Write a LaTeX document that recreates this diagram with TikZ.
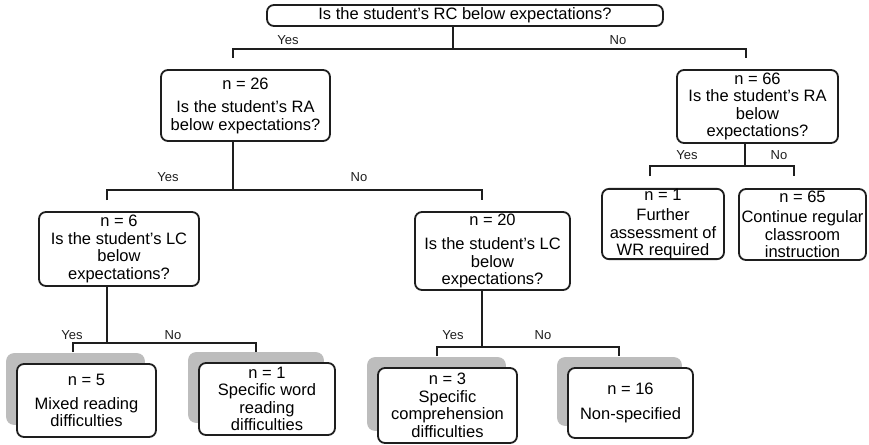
\documentclass[tikz,border=0pt]{standalone}
\usepackage{fontspec}
\setmainfont{Liberation Sans}
\usetikzlibrary{calc,backgrounds}
\definecolor{linec}{HTML}{1E1E1E}
\definecolor{shadowc}{HTML}{BDBDBD}
\begin{document}
\begin{tikzpicture}[x=1pt,y=-1pt,
  box/.style={draw=linec, line width=1.8pt, rounded corners=7pt, fill=white,
    align=center, inner sep=0pt, font=\fontsize{16.5}{17.5}\selectfont},
  conn/.style={draw=linec, line width=1.7pt},
  lbl/.style={font=\fontsize{13}{15}\selectfont, inner sep=0pt, text=linec},
  shadowbox/.style={fill=shadowc, rounded corners=8pt}]
\useasboundingbox (0,0) rectangle (869,444);

% question / result boxes
\node[box, minimum width=396pt, minimum height=21pt] (q0) at (465,15.5) {Is the student's RC below expectations?};
\node[box, minimum width=169pt, minimum height=71pt] (n26) at (245.5,105.5) {n = 26\\[6pt]Is the student's RA\\below expectations?};
\node[box, minimum width=161pt, minimum height=73pt] (n66) at (757.5,106.5) {n = 66\\Is the student's RA\\below\\expectations?};
\node[box, minimum width=122pt, minimum height=70pt] (n1) at (663,224) {n = 1\\[3pt]Further\\assessment of\\WR required};
\node[box, minimum width=127pt, minimum height=71pt] (n65) at (802.5,224.5) {n = 65\\[3pt]Continue regular\\classroom\\instruction};
\node[box, minimum width=160pt, minimum height=74pt] (n6) at (119,249) {n = 6\\Is the student's LC\\below\\expectations?};
\node[box, minimum width=155pt, minimum height=78pt] (n20) at (492.5,251) {n = 20\\[7pt]Is the student's LC\\below\\expectations?};
\node[box, minimum width=139pt, minimum height=73pt] (n5) at (86.5,400.5) {n = 5\\[6pt]Mixed reading\\difficulties};
\node[box, minimum width=136pt, minimum height=72pt] (sw) at (267,399) {n = 1\\Specific word\\reading\\difficulties};
\node[box, minimum width=139pt, minimum height=75pt] (n3) at (447.5,405.5) {n = 3\\Specific\\comprehension\\difficulties};
\node[box, minimum width=125pt, minimum height=70pt] (n16) at (630.5,403) {n = 16\\[7pt]Non-specified};

% shadows behind the outcome boxes
\begin{scope}[on background layer]
  \foreach \b in {n5,sw,n3,n16}
    \fill[shadowbox] ($(\b.north west)+(-10,-10)$) rectangle ($(\b.south east)+(-12,-13)$);
\end{scope}

% level 1
\coordinate (a0) at (453,49);
\coordinate (h0L) at (233,49);  \coordinate (d0L) at (233,58);
\coordinate (h0R) at (746,49);  \coordinate (d0R) at (746,58);
\draw[conn] (q0.south -| a0) -- (a0);
\draw[conn] (d0L) -- (h0L) -- (h0R) -- (d0R);
\node[lbl] (y0) at (288,40) {Yes};
\node[lbl] (no0) at (618,40) {No};

% level 2 left
\coordinate (a1) at (233,190);
\coordinate (h1L) at (107,190);  \coordinate (d1L) at (107,200);
\coordinate (h1R) at (482,190);  \coordinate (d1R) at (482,200);
\draw[conn] (n26.south -| a1) -- (a1);
\draw[conn] (d1L) -- (h1L) -- (h1R) -- (d1R);
\node[lbl] (y1) at (168,177) {Yes};
\node[lbl] (no1) at (359,177) {No};

% level 2 right
\coordinate (a2) at (745,166);
\coordinate (h2L) at (650,166);  \coordinate (d2L) at (650,176);
\coordinate (h2R) at (794,166);  \coordinate (d2R) at (794,176);
\draw[conn] (n66.south -| a2) -- (a2);
\draw[conn] (d2L) -- (h2L) -- (h2R) -- (d2R);
\node[lbl] (y2) at (687,155) {Yes};
\node[lbl] (no2) at (779,155) {No};

% level 3 left
\coordinate (a3) at (107,343);
\coordinate (h3L) at (73,343);  \coordinate (d3L) at (73,352);
\coordinate (h3R) at (256,343); \coordinate (d3R) at (256,352);
\draw[conn] (n6.south -| a3) -- (a3);
\draw[conn] (d3L) -- (h3L) -- (h3R) -- (d3R);
\node[lbl] (y3) at (72,335) {Yes};
\node[lbl] (no3) at (173,335) {No};

% level 3 right
\coordinate (a4) at (482,347);
\coordinate (h4L) at (437,347);  \coordinate (d4L) at (437,356);
\coordinate (h4R) at (619,347);  \coordinate (d4R) at (619,356);
\draw[conn] (n20.south -| a4) -- (a4);
\draw[conn] (d4L) -- (h4L) -- (h4R) -- (d4R);
\node[lbl] (y4) at (453,335) {Yes};
\node[lbl] (no4) at (543,335) {No};
\end{tikzpicture}
\end{document}
